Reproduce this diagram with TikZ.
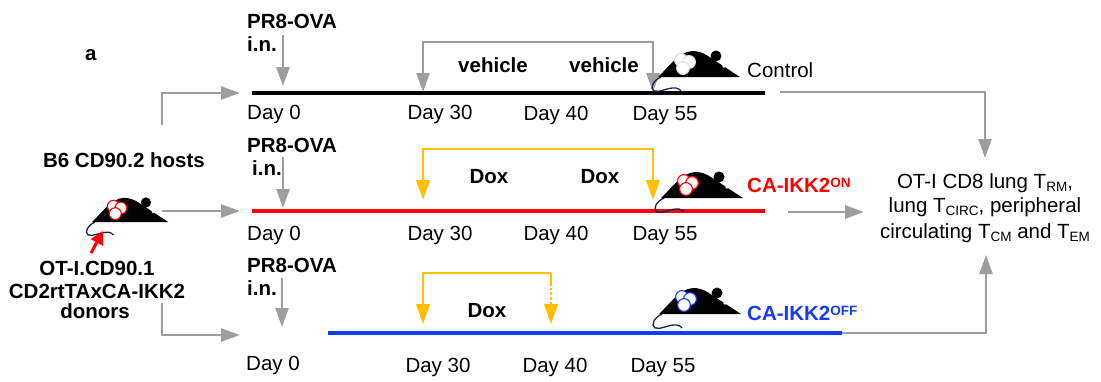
\documentclass[tikz,border=0pt]{standalone}
\usepackage{fontspec}
\setmainfont{Liberation Sans}
\usetikzlibrary{arrows.meta}
\definecolor{arrgray}{RGB}{158,158,158}
\definecolor{doxyel}{RGB}{255,192,0}
\definecolor{onred}{RGB}{255,0,0}
\definecolor{offblue}{RGB}{20,60,245}
\definecolor{tailnavy}{RGB}{25,35,80}
\newcommand\lowtxt[1]{\raisebox{-3.5pt}{\fontsize{13.5}{14}\selectfont #1}}
\newcommand\hightxt[1]{\raisebox{5pt}{\fontsize{13.5}{14}\selectfont\bfseries #1}}
\tikzset{
  lbl/.style={inner sep=0pt, font=\fontsize{20.5}{24}\selectfont},
  blbl/.style={inner sep=0pt, font=\fontsize{20.5}{24}\selectfont\bfseries},
  garrow/.style={draw=arrgray, line width=2.6pt, -{Triangle[length=19pt,width=13pt]}},
  garrowtwo/.style={draw=arrgray, line width=2.6pt, {Triangle[length=19pt,width=13pt]}-{Triangle[length=19pt,width=13pt]}},
  yarrowtwo/.style={draw=doxyel, line width=2.8pt, {Triangle[length=20pt,width=13.5pt]}-{Triangle[length=20pt,width=13.5pt]}},
  yline/.style={draw=doxyel, line width=2.8pt},
  timeline/.style={line width=3.2pt},
  mcell/.style={draw=black!12},
  mouse/.pic={
    % tail
    \draw[tailnavy, line width=1.3pt] (3,0) .. controls (-4,3) and (-9,11) .. (-4,14)
      .. controls (2,16) and (10,10) .. (18,11) .. controls (21,11.5) and (22,13) .. (23,14);
    % body, ear and eye
    \fill[black] (0,0) .. controls (10,-9) and (20,-25) .. (34,-26)
      .. controls (44,-26) and (50,-21) .. (56,-17) -- (82,0) -- cycle;
    \fill[black] (58,-21) circle (5.5);
    \fill[white] (66,-11) circle (1.8);
    % labelled cells on the back
    \foreach \p in {(23,-17),(31,-15),(25,-9)}
      \draw[mcell, fill=white, line width=1.1pt] \p circle (6.4);
  }
}
\begin{document}
\begin{tikzpicture}[x=1pt,y=-1pt]
\useasboundingbox (0,0) rectangle (1101,381);

\node[blbl, anchor=base west] (panel) at (85,60) {a};

% ---------- control row ----------
\node[blbl, anchor=base west] (pr1) at (247,28) {PR8-OVA};
\node[blbl, anchor=base west] (in1) at (247,51) {i.n.};
\coordinate (inf1s) at (283,35);
\coordinate (inf1e) at (283,86);
\draw[garrow] (inf1s) -- (inf1e);
\coordinate (l1s) at (252,93);
\coordinate (l1e) at (765,93);
\draw[timeline, black] (l1s) -- (l1e);
\node[lbl, anchor=base west] (d1a) at (247,119) {Day 0};
\node[lbl, anchor=base] (d1b) at (440,119) {Day 30};
\node[lbl, anchor=base] (d1c) at (556,120) {Day 40};
\node[lbl, anchor=base] (d1d) at (665,120) {Day 55};
\coordinate (v1a) at (423,92);
\coordinate (v1top) at (423,42);
\coordinate (v1b) at (653,92);
\draw[garrowtwo] (v1a) -- (v1top) -| (v1b);
\node[blbl, anchor=base] (veh1) at (493,72) {vehicle};
\node[blbl, anchor=base] (veh2) at (604,72) {vehicle};
\pic at (658,77) {mouse};
\node[lbl, anchor=base west] (ctl) at (747,77) {Control};
\coordinate (o1s) at (780,92);
\coordinate (o1e) at (985,158);
\draw[garrow] (o1s) -| (o1e);

% ---------- hosts and donors ----------
\node[blbl, anchor=base] (hosts) at (124,167) {B6 CD90.2 hosts};
\coordinate (h1s) at (162,125);
\coordinate (h1e) at (240,93);
\draw[garrow] (h1s) |- (h1e);
\pic[mcell/.style={draw=onred}, scale=0.93] at (92,222) {mouse};
\coordinate (rab) at (91,253);
\coordinate (rat) at (103,231);
\draw[onred, line width=3pt, -{Triangle[length=13pt,width=13pt]}] (rab) -- (rat);
\coordinate (h2s) at (162,211);
\coordinate (h2e) at (240,211);
\draw[garrow] (h2s) -- (h2e);
\node[blbl, anchor=base] (don1) at (97,275) {OT-I.CD90.1};
\node[blbl, anchor=base] (don2) at (97,298) {CD2rtTAxCA-IKK2};
\node[blbl, anchor=base] (don3) at (95,318) {donors};
\coordinate (h3s) at (162,303);
\coordinate (h3e) at (240,335);
\draw[garrow] (h3s) |- (h3e);

% ---------- CA-IKK2 ON row ----------
\node[blbl, anchor=base west] (pr2) at (247,152) {PR8-OVA};
\node[blbl, anchor=base west] (in2) at (252,175) {i.n.};
\coordinate (inf2s) at (283,157);
\coordinate (inf2e) at (283,208);
\draw[garrow] (inf2s) -- (inf2e);
\coordinate (l2s) at (252,211);
\coordinate (l2e) at (765,211);
\draw[timeline, onred] (l2s) -- (l2e);
\node[lbl, anchor=base west] (d2a) at (247,240) {Day 0};
\node[lbl, anchor=base] (d2b) at (440,240) {Day 30};
\node[lbl, anchor=base] (d2c) at (556,240) {Day 40};
\node[lbl, anchor=base] (d2d) at (665,240) {Day 55};
\coordinate (x2a) at (423,200);
\coordinate (x2top) at (423,149);
\coordinate (x2b) at (653,200);
\draw[yarrowtwo] (x2a) -- (x2top) -| (x2b);
\node[blbl, anchor=base] (dox1) at (489,183) {Dox};
\node[blbl, anchor=base] (dox2) at (600,183) {Dox};
\pic[mcell/.style={draw=onred}] at (661,198) {mouse};
\node[blbl, anchor=base west, text=onred] (on) at (747,192) {CA-IKK2\hightxt{ON}};
\coordinate (o2s) at (788,212);
\coordinate (o2e) at (864,212);
\draw[garrow] (o2s) -- (o2e);

% ---------- read-out ----------
\node[lbl, anchor=base] (rt1) at (985,188) {OT-I CD8 lung T\lowtxt{RM},};
\node[lbl, anchor=base] (rt2) at (985,212) {lung T\lowtxt{CIRC}, peripheral};
\node[lbl, anchor=base] (rt3) at (985,238) {circulating T\lowtxt{CM} and T\lowtxt{EM}};

% ---------- CA-IKK2 OFF row ----------
\node[blbl, anchor=base west] (pr3) at (247,272) {PR8-OVA};
\node[blbl, anchor=base west] (in3) at (247,295) {i.n.};
\coordinate (inf3s) at (282,278);
\coordinate (inf3e) at (282,327);
\draw[garrow] (inf3s) -- (inf3e);
\coordinate (l3s) at (328,333);
\coordinate (l3e) at (842,333);
\draw[timeline, offblue] (l3s) -- (l3e);
\coordinate (o3e) at (986,255);
\draw[garrow, line width=2.2pt] (l3e) -| (o3e);
\node[lbl, anchor=base west] (d3a) at (246,370) {Day 0};
\node[lbl, anchor=base] (d3b) at (438,372) {Day 30};
\node[lbl, anchor=base] (d3c) at (555,372) {Day 40};
\node[lbl, anchor=base] (d3d) at (663,372) {Day 55};
\coordinate (x3a) at (423,324);
\coordinate (x3top) at (423,273);
\coordinate (x3m) at (551,283);
\coordinate (x3b) at (551,324);
\draw[yline, {Triangle[length=20pt,width=13.5pt]}-] (x3a) -- (x3top) -| (x3m);
\draw[yline, dash pattern=on 2.5pt off 2.2pt, -{Triangle[length=20pt,width=13.5pt]}] (x3m) -- (x3b);
\node[blbl, anchor=base] (dox3) at (487,317) {Dox};
\pic[mcell/.style={draw=offblue}] at (659,314) {mouse};
\node[blbl, anchor=base west, text=offblue] (off) at (747,320) {CA-IKK2\hightxt{OFF}};
\end{tikzpicture}
\end{document}
